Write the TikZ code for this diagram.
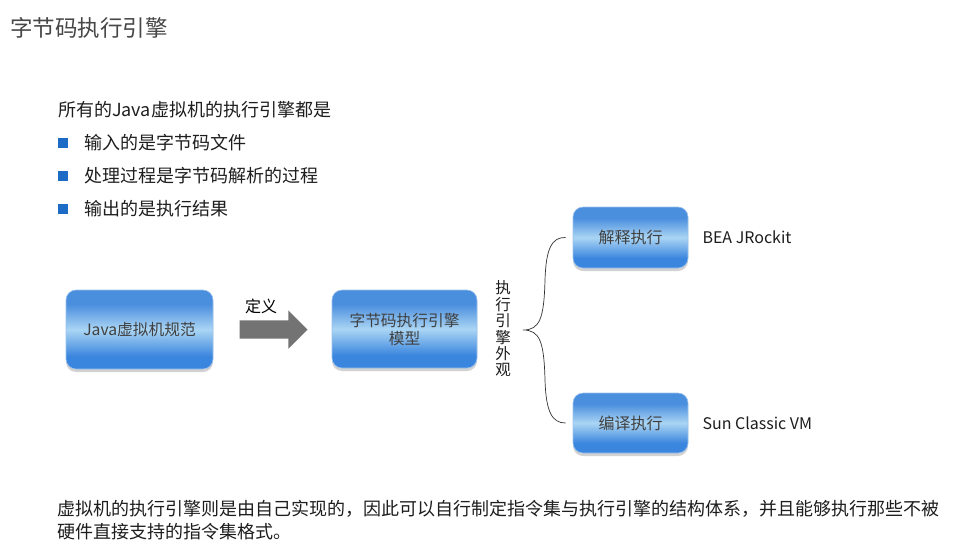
\documentclass[tikz,border=0pt]{standalone}
\usepackage{fontspec}
\setmainfont{Noto Sans CJK SC}
\usetikzlibrary{shadows,shapes.arrows,calc}
\definecolor{boxblue}{HTML}{3A85DE}
\definecolor{boxtop}{HTML}{4A8EDE}
\definecolor{boxlight}{HTML}{AAD5F4}
\definecolor{bulletblue}{HTML}{1C6CC6}
\definecolor{textgray}{HTML}{1E1E1E}
\pgfdeclareverticalshading{engshade}{100bp}{color(0bp)=(boxblue); color(25bp)=(boxblue); color(33bp)=(boxblue);
  color(50bp)=(boxlight); color(66bp)=(boxtop); color(75bp)=(boxtop); color(100bp)=(boxtop)}

\begin{document}
\begin{tikzpicture}[x=1pt,y=-1pt,
  engbox/.style={rounded corners=10pt,shading=engshade,
    draw=boxblue!50!white,line width=0.6pt,drop shadow={shadow xshift=0pt,shadow yshift=-3pt,opacity=0.35},
    text=textgray!85,font=\fontsize{15.7}{18}\selectfont,align=center,inner sep=0pt},
  body/.style={anchor=west,text=textgray,font=\fontsize{18}{22}\selectfont,inner sep=0pt}]
\fill[white] (0,0) rectangle (963,557);
\useasboundingbox (0,0) rectangle (963,557);
\node[anchor=west,inner sep=0pt,text=black!72,font=\fontsize{22.5}{26}\selectfont] (title) at (10,28) {字节码执行引擎};
\node[body] (intro) at (58,110) {所有的Java虚拟机的执行引擎都是};
\foreach \t [count=\i] in {输入的是字节码文件,处理过程是字节码解析的过程,输出的是执行结果}{
  \fill[bulletblue] (58,{110+33*\i-5}) rectangle (68,{110+33*\i+5});
  \node[body] (item\i) at (84,{110+33*\i}) {\t};
}
\node[engbox,minimum width=147pt,minimum height=79pt] (spec) at (139.5,329.5) {Java虚拟机规范};
\node[engbox,minimum width=145pt,minimum height=78pt] (model) at (404.5,329) {字节码执行引擎\\模型};
\node[engbox,minimum width=115pt,minimum height=61pt,font=\fontsize{16}{18}\selectfont] (interp) at (630.5,237.5) {解释执行};
\node[engbox,minimum width=115pt,minimum height=60pt,font=\fontsize{16}{18}\selectfont] (compile) at (630.5,423) {编译执行};
\node[single arrow,fill=black!55,minimum height=68pt,inner xsep=0pt,inner ysep=9pt,single arrow head extend=10pt,anchor=tail] (defarr) at ($(spec.east)+(26,0)$) {};
\node[inner sep=0pt,text=black,font=\fontsize{16}{19}\selectfont] (deflabel) at (261,306) {定义};
\node[align=center,inner sep=0pt,text=textgray,font=\fontsize{15.5}{16.4}\selectfont] (facade) at (503,329) {执\\行\\引\\擎\\外\\观};
\coordinate (bracetip) at (523,330);
\draw[black!80,line width=0.7pt] ($(interp.west)+(-7,0)$) .. controls (552,237) and (546,248) .. (545,280)
  .. controls (544,318) and (540,330) .. (bracetip)
  .. controls (540,330) and (544,342) .. (545,380)
  .. controls (546,412) and (552,423) .. ($(compile.west)+(-7,0)$);
\node[anchor=west,inner sep=0pt,text=textgray,font=\fontsize{16}{19}\selectfont] (bea) at ($(interp.east)+(14,0)$) {BEA JRockit};
\node[anchor=west,inner sep=0pt,text=textgray,font=\fontsize{16}{19}\selectfont] (sun) at ($(compile.east)+(14,0)$) {Sun Classic VM};
\node[body,align=left,font=\fontsize{18}{23}\selectfont] (note) at (57,520.5) {虚拟机的执行引擎则是由自己实现的，因此可以自行制定指令集与执行引擎的结构体系，并且能够执行那些不被\\硬件直接支持的指令集格式。};
\end{tikzpicture}
\end{document}
